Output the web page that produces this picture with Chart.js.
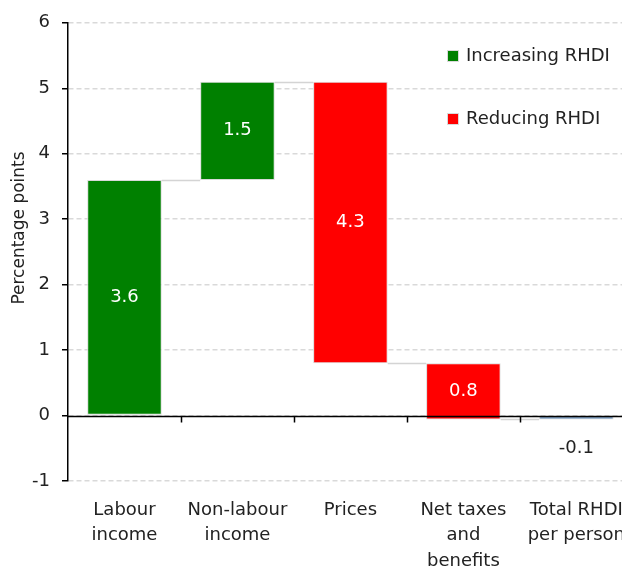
<!DOCTYPE html>
<html>
<head>
<meta charset="utf-8">
<script src="https://cdn.jsdelivr.net/npm/chart.js@4"></script>
<style>
  html, body { margin: 0; padding: 0; overflow: hidden; background: #fff; }
  #wrap { position: relative; width: 642px; height: 568px; }
</style>
</head>
<body>
<div id="wrap"><canvas id="chart" width="642" height="568"></canvas></div>
<script>
// waterfall data
const categories = [
    ["Labour", "income"],
    ["Non-labour", "income"],
    ["Prices"],
    ["Net taxes", "and", "benefits"],
    ["Total RHDI", "per person"]
];
const barStart = [0, 3.6, 5.1, 0.8, 0];
const barEnd = [3.6, 5.1, 0.8, -0.06, -0.06];
const barLabels = ["3.6", "1.5", "4.3", "0.8", "-0.1"];
const barKind = ["up", "up", "down", "down", "total"];
const legendItems = ["Increasing RHDI", "Reducing RHDI"];
const yTitle = "Percentage points";

const FONT = "'DejaVu Sans', sans-serif";
const colours = { up: "#008000", down: "#ff0000", total: "#5a86b3" };

// connectors, zero line, labels, axis title and legend
const waterfallExtras = {
    id: "waterfallExtras",
    afterDatasetsDraw(chart) {
        const ctx = chart.ctx;
        const meta = chart.getDatasetMeta(0);
        const y = chart.scales.y;
        const area = chart.chartArea;
        ctx.save();

        // connector lines between bars
        ctx.strokeStyle = "#d4d4d4";
        ctx.lineWidth = 1.5;
        for (let i = 0; i < meta.data.length - 1; i++) {
            const a = meta.data[i], b = meta.data[i + 1];
            const yy = Math.round(y.getPixelForValue(barEnd[i])) + 0.5;
            ctx.beginPath();
            ctx.moveTo(a.x + a.width / 2, yy);
            ctx.lineTo(b.x - b.width / 2, yy);
            ctx.stroke();
        }

        // zero line with small ticks between categories
        const y0 = Math.round(y.getPixelForValue(0)) + 0.5;
        ctx.strokeStyle = "#000";
        ctx.lineWidth = 1.5;
        ctx.beginPath();
        ctx.moveTo(area.left, y0);
        ctx.lineTo(area.right, y0);
        const x = chart.scales.x;
        for (let i = 1; i < categories.length; i++) {
            const xx = Math.round((x.getPixelForValue(i - 1) + x.getPixelForValue(i)) / 2) + 0.5;
            ctx.moveTo(xx, y0);
            ctx.lineTo(xx, y0 + 6);
        }
        ctx.stroke();

        // value labels
        ctx.font = "18px " + FONT;
        ctx.textAlign = "center";
        ctx.textBaseline = "middle";
        meta.data.forEach((bar, i) => {
            if (barKind[i] === "total") {
                ctx.fillStyle = "#222";
                ctx.fillText(barLabels[i], bar.x, y.getPixelForValue(barEnd[i]) + 29);
            } else {
                ctx.fillStyle = "#fff";
                const mid = (barStart[i] + barEnd[i]) / 2;
                ctx.fillText(barLabels[i], bar.x, y.getPixelForValue(mid));
            }
        });

        // y axis title
        ctx.save();
        ctx.translate(20, 228);
        ctx.rotate(-Math.PI / 2);
        ctx.font = "17px " + FONT;
        ctx.fillStyle = "#222";
        ctx.fillText(yTitle, 0, 0);
        ctx.restore();

        // legend inside the plot
        const legCols = [colours.up, colours.down];
        const legY = [56, 119];
        ctx.textAlign = "left";
        ctx.textBaseline = "alphabetic";
        legendItems.forEach((txt, i) => {
            ctx.fillStyle = "#d9d9d9";
            ctx.fillRect(447, legY[i] - 6, 12, 12);
            ctx.fillStyle = legCols[i];
            ctx.fillRect(448, legY[i] - 5, 10, 10);
            ctx.fillStyle = "#222";
            ctx.fillText(txt, 466, legY[i] + 5);
        });
        ctx.restore();
    }
};

const ctx = document.getElementById("chart").getContext("2d");
new Chart(ctx, {
    type: "bar",
    data: {
        labels: categories,
        datasets: [{
            data: barStart.map((s, i) => [s, barEnd[i]]),
            backgroundColor: barKind.map(k => colours[k]),
            borderColor: "#d9d9d9",
            borderWidth: 1,
            borderSkipped: false,
            categoryPercentage: 1,
            barPercentage: 0.66
        }]
    },
    options: {
        responsive: false,
        animation: false,
        layout: { padding: { top: 22, right: 0, left: 0, bottom: 0 } },
        plugins: {
            legend: { display: false },
            tooltip: { enabled: false }
        },
        scales: {
            x: {
                grid: { display: false, drawTicks: false },
                border: { display: false },
                ticks: {
                    color: "#222",
                    font: { family: FONT, size: 18, lineHeight: 1.4 },
                    padding: 17,
                    maxRotation: 0,
                    autoSkip: false
                },
                afterFit(scale) { scale.height = 87; }
            },
            y: {
                min: -1,
                max: 6,
                ticks: {
                    stepSize: 1,
                    color: "#222",
                    font: { family: FONT, size: 18 },
                    padding: 12
                },
                grid: {
                    color: "#d9d9d9",
                    lineWidth: 1.5,
                    tickColor: "#000",
                    tickLength: 6,
                    tickBorderDash: []
                },
                border: { color: "#000", width: 1.5, dash: [5, 3] },
                afterFit(scale) { scale.width = 68; }
            }
        }
    },
    plugins: [waterfallExtras]
});
</script>
</body>
</html>
